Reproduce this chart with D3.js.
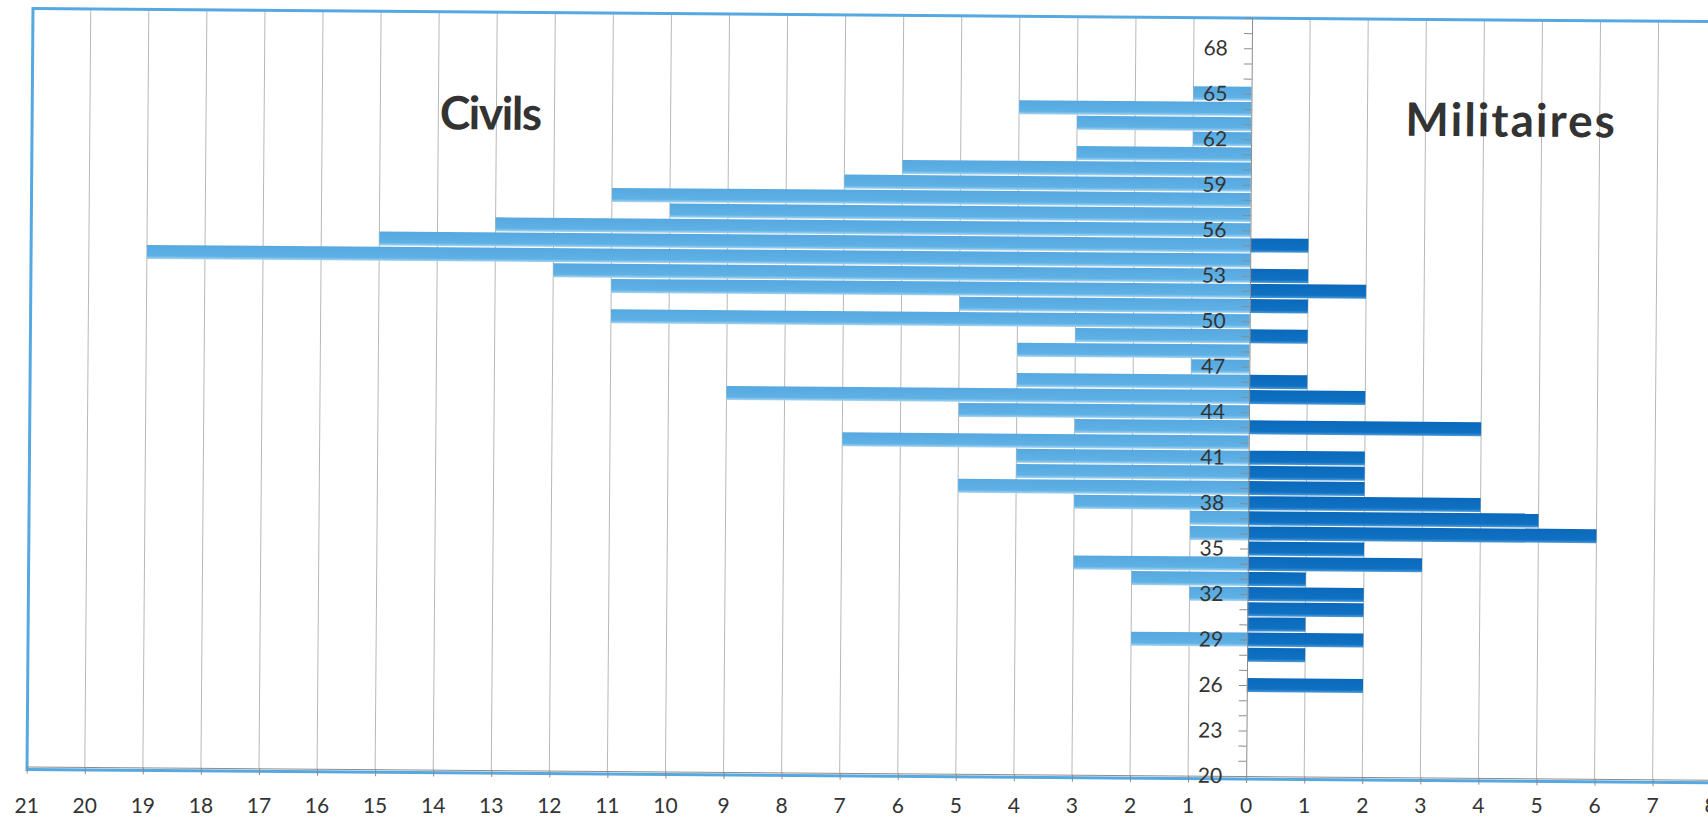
<!DOCTYPE html>
<html>
<head>
<meta charset="utf-8">
<script src="https://cdn.jsdelivr.net/npm/d3@7"></script>
<style>
    body { margin: 0; background: #fff; }
    svg { display: block; }
    .axis text, .xlabel { font-family: Lato, "Open Sans", sans-serif; font-size: 21px; fill: #333; }
    .axis path, .axis line { stroke: #8c8c8c; }
    .title { font-family: Lato, "Open Sans", sans-serif; font-weight: bold; font-size: 46px; fill: #333; }
</style>
</head>
<body>
<svg id="chart" width="1708" height="817"></svg>
<script>
// ages 20..68, one row each
const ages = [20, 21, 22, 23, 24, 25, 26, 27, 28, 29,
              30, 31, 32, 33, 34, 35, 36, 37, 38, 39,
              40, 41, 42, 43, 44, 45, 46, 47, 48, 49,
              50, 51, 52, 53, 54, 55, 56, 57, 58, 59,
              60, 61, 62, 63, 64, 65, 66, 67, 68];

const civils = [0, 0, 0, 0, 0, 0, 0, 0, 0, 2,
                0, 0, 1, 2, 3, 0, 1, 1, 3, 5,
                4, 4, 7, 3, 5, 9, 4, 1, 4, 3,
                11, 5, 11, 12, 19, 15, 13, 10, 11, 7,
                6, 3, 1, 3, 4, 1, 0, 0, 0];

const militaires = [0, 0, 0, 0, 0, 0, 2, 0, 1, 2,
                    1, 2, 2, 1, 3, 2, 6, 5, 4, 2,
                    2, 2, 0, 4, 0, 2, 1, 0, 0, 1,
                    0, 1, 2, 1, 0, 1, 0, 0, 0, 0,
                    0, 0, 0, 0, 0, 0, 0, 0, 0];

const ageLabels = [20, 23, 26, 29, 32, 35, 38, 41, 44, 47, 50, 53, 56, 59, 62, 65, 68];
const countTicks = [-21, -20, -19, -18, -17, -16, -15, -14, -13, -12, -11, -10, -9, -8, -7,
                    -6, -5, -4, -3, -2, -1, 0, 1, 2, 3, 4, 5, 6, 7, 8];

const svg = d3.select('#chart');

const x = d3.scaleLinear().domain([-21, 8]).range([26.7, 1710.7]);
const y = d3.scaleLinear().domain([20, 70]).range([776, 18]);
const barH = 14;

// the scan is turned a little, so the whole chart is too
const g = svg.append('g')
    .attr('transform', 'rotate(0.45,' + x(0) + ',' + y(20) + ')');

const defs = svg.append('defs');
function grad(id, top, mid, bottom) {
    let lg = defs.append('linearGradient').attr('id', id)
        .attr('x1', 0).attr('y1', 0).attr('x2', 0).attr('y2', 1);
    lg.append('stop').attr('offset', '0%').attr('stop-color', top);
    lg.append('stop').attr('offset', '78%').attr('stop-color', mid);
    lg.append('stop').attr('offset', '100%').attr('stop-color', bottom);
}
grad('civ', '#56a8df', '#5eb1e5', '#a9d4f1');
grad('mil', '#0b69bb', '#0f71c3', '#4f9ad6');

// vertical grid
g.append('g')
    .selectAll('line')
    .data(countTicks.filter(d => d !== 0 && d !== -21))
    .join('line')
        .attr('x1', d => x(d))
        .attr('x2', d => x(d))
        .attr('y1', y(70))
        .attr('y2', y(20))
        .style('stroke', '#b8b8b8')
        .style('stroke-width', 1);

const rows = ages.map((a, i) => ({ age: a, civ: civils[i], mil: militaires[i] }));

g.append('g')
    .selectAll('rect')
    .data(rows.filter(d => d.civ > 0))
    .join('rect')
        .attr('x', d => x(-d.civ))
        .attr('y', d => y(d.age) - barH / 2)
        .attr('width', d => x(0) - x(-d.civ))
        .attr('height', barH)
        .style('fill', 'url(#civ)');

g.append('g')
    .selectAll('rect')
    .data(rows.filter(d => d.mil > 0))
    .join('rect')
        .attr('x', x(0))
        .attr('y', d => y(d.age) - barH / 2)
        .attr('width', d => x(d.mil) - x(0))
        .attr('height', barH)
        .style('fill', 'url(#mil)');

// frame
g.append('rect')
    .attr('x', 27)
    .attr('y', 18)
    .attr('width', 1760)
    .attr('height', 761)
    .style('fill', 'none')
    .style('stroke', '#55a8e0')
    .style('stroke-width', 3);

const xAxis = d3.axisBottom(x)
    .tickValues(countTicks)
    .tickSize(7)
    .tickSizeOuter(0)
    .tickFormat('');

g.append('g')
    .attr('class', 'axis')
    .attr('transform', 'translate(0,' + y(20) + ')')
    .call(xAxis);

// count labels kept level so the right-hand ones stay inside the picture
svg.append('g')
    .selectAll('text')
    .data(countTicks)
    .join('text')
        .attr('class', 'xlabel')
        .attr('x', d => x(d))
        .attr('y', 804)
        .attr('text-anchor', 'middle')
        .attr('dominant-baseline', 'central')
        .text(d => Math.abs(d));

const yAxis = d3.axisLeft(y)
    .tickValues(d3.range(20, 71))
    .tickSize(8)
    .tickSizeOuter(0)
    .tickPadding(16)
    .tickFormat(d => ageLabels.includes(d) ? d : '');

g.append('g')
    .attr('class', 'axis')
    .attr('transform', 'translate(' + x(0) + ',0)')
    .call(yAxis);

g.selectAll('.axis path').style('stroke', '#8c8c8c');
g.selectAll('.axis .tick line').style('stroke', '#8c8c8c');

g.append('text')
    .attr('class', 'title')
    .attr('x', 485)
    .attr('y', 118)
    .attr('text-anchor', 'middle')
    .attr('dominant-baseline', 'central')
    .style('letter-spacing', '-1.5px')
    .text('Civils');

g.append('text')
    .attr('class', 'title')
    .attr('x', 1506)
    .attr('y', 117)
    .attr('text-anchor', 'middle')
    .attr('dominant-baseline', 'central')
    .style('letter-spacing', '2px')
    .text('Militaires');
</script>
</body>
</html>
